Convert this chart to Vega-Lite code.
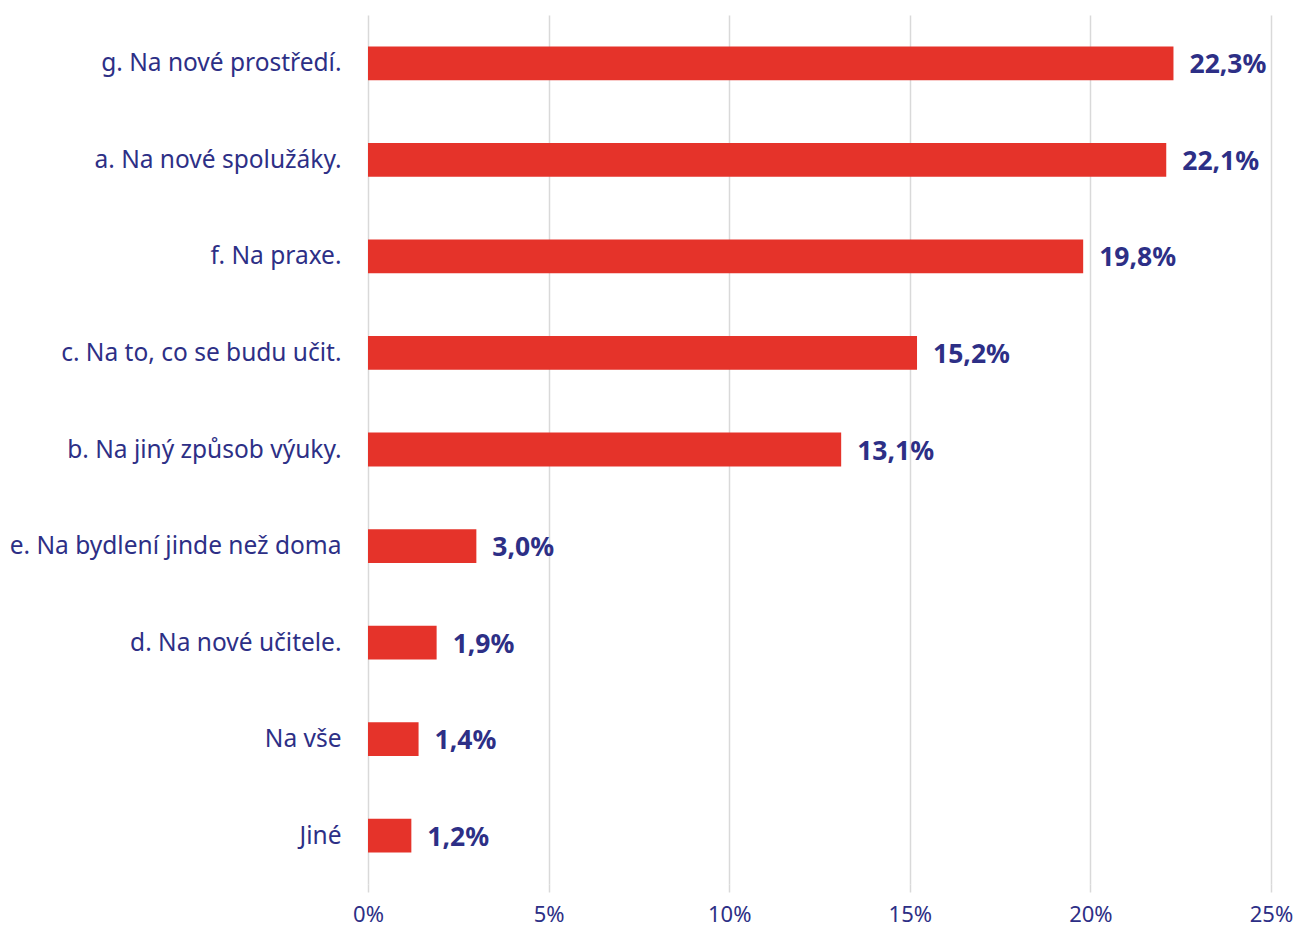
{
  "$schema": "https://vega.github.io/schema/vega-lite/v6.json",
  "autosize": "none",
  "padding": {"left": 368, "top": 15, "right": 25, "bottom": 44},
  "width": 903,
  "height": 869,
  "background": "white",
  "config": {
    "view": {"stroke": null},
    "locale": {"number": {"decimal": ",", "thousands": " ", "grouping": [3], "currency": ["", " Kč"]}},
    "font": "Noto Sans"
  },
  "data": {
    "values": [
      {"kategorie": "g. Na nové prostředí.", "podil": 0.223},
      {"kategorie": "a. Na nové spolužáky.", "podil": 0.221},
      {"kategorie": "f. Na praxe.", "podil": 0.198},
      {"kategorie": "c. Na to, co se budu učit.", "podil": 0.152},
      {"kategorie": "b. Na jiný způsob výuky.", "podil": 0.131},
      {"kategorie": "e. Na bydlení jinde než doma", "podil": 0.030},
      {"kategorie": "d. Na nové učitele.", "podil": 0.019},
      {"kategorie": "Na vše", "podil": 0.014},
      {"kategorie": "Jiné", "podil": 0.012}
    ]
  },
  "encoding": {
    "y": {
      "field": "kategorie", "type": "nominal", "sort": null,
      "scale": {"paddingInner": 0.65, "paddingOuter": 0.325},
      "axis": {
        "title": null, "domain": false, "ticks": false,
        "labelFontSize": 24.5, "labelColor": "#2d2f86", "labelPadding": 27,
        "labelFont": "Noto Sans", "labelLimit": 400, "labelOffset": 1
      }
    },
    "x": {
      "field": "podil", "type": "quantitative",
      "scale": {"domain": [0, 0.25], "nice": false},
      "axis": {
        "title": null, "format": ".0%", "values": [0, 0.05, 0.1, 0.15, 0.2, 0.25],
        "domain": false, "grid": true, "gridColor": "#d9d9d9", "gridWidth": 1.5,
        "ticks": true, "tickColor": "#d9d9d9", "tickSize": 8, "tickWidth": 1.5,
        "labelFontSize": 22, "labelColor": "#2d2f86", "labelPadding": 12,
        "labelFont": "Noto Sans", "labelFlush": false
      }
    }
  },
  "layer": [
    {"mark": {"type": "bar", "color": "#e5332a"}},
    {
      "mark": {"type": "text", "align": "left", "dx": 16, "dy": 2, "fontSize": 26.5, "fontWeight": "bold", "color": "#2d2f86", "font": "Noto Sans"},
      "encoding": {"text": {"field": "podil", "type": "quantitative", "format": ".1%"}}
    }
  ]
}
